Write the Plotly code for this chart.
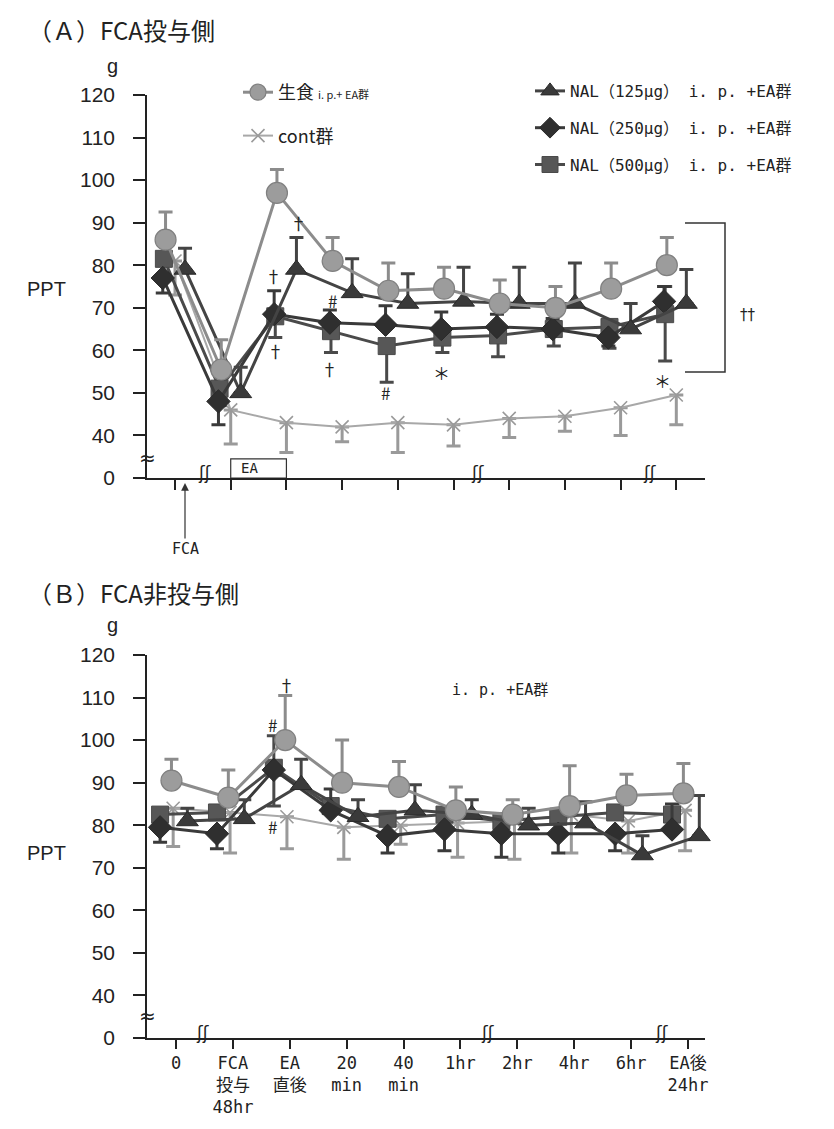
import plotly.graph_objects as go

W, H = 834, 1129

# ---------------- data ----------------
x_labels = ["0", "FCA<br>投与<br>48hr", "EA<br>直後", "20<br>min", "40<br>min",
            "1hr", "2hr", "4hr", "6hr", "EA後<br>24hr"]
idx = list(range(len(x_labels)))

y_tickvals = [30, 40, 50, 60, 70, 80, 90, 100, 110, 120]
y_ticktext = ["0", "40", "50", "60", "70", "80", "90", "100", "110", "120"]

# Panel A (FCA投与側)
saline_A = [86, 55.5, 97, 81, 74, 74.5, 71, 70, 74.5, 80]
saline_A_up = [6.5, 7, 5.5, 5.5, 6.5, 5, 5.5, 5, 6, 6.5]
saline_A_down = [0, 0, 0, 0, 0, 0, 0, 0, 0, 0]

nal125_A = [79, 50, 79, 73.5, 71, 71.5, 71, 71, 65, 71]
nal125_A_up = [5, 6, 7.5, 8, 7, 8, 8.5, 9.5, 6, 8]
nal125_A_down = [0, 0, 0, 0, 0, 0, 0, 0, 0, 0]

nal250_A = [77, 48, 68.5, 66.5, 66, 65, 65.5, 65, 63, 71.5]
nal250_A_up = [0, 0, 5.5, 3, 4.5, 4, 3, 2.5, 0, 3.5]
nal250_A_down = [3.5, 5.5, 0, 0, 0, 0, 0, 0, 2, 0]

nal500_A = [81.5, 51, 68, 64.5, 61, 63, 63.5, 65, 65.5, 68.5]
nal500_A_up = [0, 0, 0, 0, 0, 0, 0, 0, 0, 6.5]
nal500_A_down = [5, 4, 5, 5, 8.5, 3.5, 5, 4, 5, 11]

cont_A = [81, 46, 43, 42, 43, 42.5, 44, 44.5, 46.5, 49.5]
cont_A_up = [0, 0, 0, 0, 0, 0, 0, 0, 0, 0]
cont_A_down = [8, 8, 7, 3.5, 7, 5, 4.5, 3.5, 6.5, 7]

# Panel B (FCA非投与側)
saline_B = [90.5, 86.5, 100, 90, 89, 83.5, 82.5, 84.5, 87, 87.5]
saline_B_up = [5, 6.5, 10.5, 10, 6, 5.5, 3.5, 9.5, 5, 7]
saline_B_down = [0, 0, 0, 0, 0, 0, 0, 0, 0, 0]

nal125_B = [81, 81.5, 89.5, 82, 83.5, 82.5, 80, 80.5, 73, 77.5]
nal125_B_up = [3, 4.5, 6, 4, 6, 3.5, 4, 5, 4.5, 9.5]
nal125_B_down = [0, 0, 0, 0, 0, 0, 0, 0, 0, 0]

nal250_B = [79.5, 78, 93, 83.5, 77.5, 79, 78, 78, 78, 79]
nal250_B_up = [0, 0, 0, 5, 0, 0, 0, 0, 0, 6]
nal250_B_down = [3.5, 3.5, 0, 0, 4, 5, 5.5, 4.5, 4, 0]

nal500_B = [82.5, 83, 93.5, 84.5, 81.5, 82.5, 81, 82, 83, 82.5]
nal500_B_up = [0, 0, 7.5, 0, 0, 0, 0, 0, 0, 0]
nal500_B_down = [0, 0, 9, 0, 0, 0, 0, 0, 0, 0]

cont_B = [84, 83, 82, 79.5, 80, 80.5, 81, 82.5, 81, 83.5]
cont_B_up = [0, 0, 0, 0, 0, 0, 0, 0, 0, 0]
cont_B_down = [9, 9.5, 7.5, 7.5, 4.5, 8, 9, 9, 7.5, 9.5]

# ---------------- styles ----------------
CJK = "Noto Sans CJK JP"
MONO = "DejaVu Sans Mono, Noto Sans CJK JP"
styles = {
    "cont": dict(name="cont群", symbol="x-thin", size=13, fill="#a0a0a0",
                 mline=dict(color="#9a9a9a", width=1.6), line="#a8a8a8", lw=2,
                 err="#9a9a9a", legend="legend", rank=2),
    "nal500": dict(name="NAL（500μg） i. p. +EA群", symbol="square", size=17, fill="#575757",
                   mline=dict(color="#4a4a4a", width=1), line="#4a4a4a", lw=3,
                   err="#4a4a4a", legend="legend2", rank=3),
    "nal250": dict(name="NAL（250μg） i. p. +EA群", symbol="diamond", size=18, fill="#2f2f2f",
                   mline=dict(color="#2a2a2a", width=1), line="#3a3a3a", lw=3,
                   err="#3a3a3a", legend="legend2", rank=2),
    "nal125": dict(name="NAL（125μg） i. p. +EA群", symbol="triangle-up", size=19, fill="#3a3a3a",
                   mline=dict(color="#2a2a2a", width=1), line="#444444", lw=3,
                   err="#444444", legend="legend2", rank=1),
    "saline": dict(name='生食 <span style="font-size:11px">i. p.+ EA群</span>', symbol="circle",
                   size=21, fill="#9c9c9c", mline=dict(color="#808080", width=1.2),
                   line="#8c8c8c", lw=3, err="#8c8c8c", legend="legend", rank=1),
}

panelA = {
    "cont": (cont_A, cont_A_up, cont_A_down, 0.0),
    "nal500": (nal500_A, nal500_A_up, nal500_A_down, -0.20),
    "nal250": (nal250_A, nal250_A_up, nal250_A_down, -0.22),
    "nal125": (nal125_A, nal125_A_up, nal125_A_down, 0.18),
    "saline": (saline_A, saline_A_up, saline_A_down, -0.17),
}
panelB = {
    "cont": (cont_B, cont_B_up, cont_B_down, -0.05),
    "nal500": (nal500_B, nal500_B_up, nal500_B_down, -0.28),
    "nal250": (nal250_B, nal250_B_up, nal250_B_down, -0.28),
    "nal125": (nal125_B, nal125_B_up, nal125_B_down, 0.20),
    "saline": (saline_B, saline_B_up, saline_B_down, -0.08),
}

fig = go.Figure()

def add_panel(panel, xa, ya, show):
    for key, (vals, up, down, off) in panel.items():
        s = styles[key]
        fig.add_trace(go.Scatter(
            x=[i + off for i in idx], y=vals, xaxis=xa, yaxis=ya,
            mode="lines+markers", name=s["name"], showlegend=show,
            legend=s["legend"], legendrank=s["rank"], legendgroup=key + xa,
            line=dict(color=s["line"], width=s["lw"]),
            marker=dict(symbol=s["symbol"], size=s["size"], color=s["fill"], line=s["mline"]),
            error_y=dict(type="data", symmetric=False, array=up, arrayminus=down,
                         color=s["err"], thickness=3, width=7),
            cliponaxis=False,
        ))

add_panel(panelA, "x", "y", True)
add_panel(panelB, "x2", "y2", False)

xdom = [147 / W, 705 / W]
def py(p):
    return 1 - p / H

axis_common = dict(showgrid=False, zeroline=False, showline=True, linecolor="#222222",
                   linewidth=1.5, ticks="outside", tickcolor="#222222", tickwidth=1.5,
                   automargin=False)

fig.update_layout(
    width=W, height=H, margin=dict(l=0, r=0, t=0, b=0, pad=0, autoexpand=False),
    paper_bgcolor="white", plot_bgcolor="white",
    xaxis=dict(domain=xdom, range=[-0.503, 9.515], tickvals=idx, showticklabels=False,
               ticklen=10, anchor="y", **axis_common),
    yaxis=dict(domain=[py(478), py(95)], range=[30, 120], tickvals=y_tickvals,
               ticktext=y_ticktext, ticklen=12, ticklabelstandoff=14, anchor="x",
               tickfont=dict(family="Liberation Sans", size=21, color="#222"), **axis_common),
    xaxis2=dict(domain=xdom, range=[-0.51, 9.30], tickvals=idx, ticktext=x_labels,
                ticklen=9, anchor="y2",
                tickfont=dict(family=MONO, size=17, color="#222"),
                **axis_common),
    yaxis2=dict(domain=[py(1038), py(655)], range=[30, 120], tickvals=y_tickvals,
                ticktext=y_ticktext, ticklen=12, ticklabelstandoff=14, anchor="x2",
                tickfont=dict(family="Liberation Sans", size=21, color="#222"), **axis_common),
    legend=dict(x=238 / W, y=py(74), xanchor="left", yanchor="top", tracegroupgap=17,
                bgcolor="rgba(0,0,0,0)", font=dict(family=CJK, size=18, color="#222"),
                traceorder="grouped"),
    legend2=dict(x=530 / W, y=py(74), xanchor="left", yanchor="top", tracegroupgap=13,
                 bgcolor="rgba(0,0,0,0)", font=dict(family=MONO, size=16, color="#222"),
                 traceorder="grouped"),
)

ann = []
def text(x, y, t, size=16, xref="paper", yref="paper", family=CJK, xanchor="center", **kw):
    ann.append(dict(x=x, y=y, xref=xref, yref=yref, text=t, showarrow=False,
                    font=dict(family=family, size=size, color="#222"), xanchor=xanchor,
                    yanchor="middle", **kw))

# titles and axis labels
text(26 / W, py(30), "（Ａ）FCA投与側", size=24, xanchor="left")
text(113 / W, py(66), "g", size=20, family="Liberation Sans")
text(46 / W, py(289), "PPT", size=20, family="Liberation Sans")
text(26 / W, py(592), "（Ｂ）FCA非投与側", size=24, xanchor="left")
text(113 / W, py(625), "g", size=20, family="Liberation Sans")
text(46 / W, py(853), "PPT", size=20, family="Liberation Sans")
text(500 / W, py(690), "i. p. +EA群", size=15, family=MONO)

# significance marks, panel A
for (xx, yy, t) in [(2.21, 90.1, "†"), (1.76, 77.7, "†"), (1.80, 60.0, "†"),
                    (2.82, 71.8, "#"), (2.78, 55.8, "†"), (3.77, 50.0, "#"),
                    (4.79, 54.9, "＊"), (8.76, 53.0, "＊")]:
    text(xx, yy, t, size=17, xref="x", yref="y", family=CJK)
text(748 / W, py(315), "††", size=15, family="DejaVu Sans")
# significance marks, panel B
for (xx, yy, t) in [(1.95, 113.0, "†"), (1.70, 103.7, "#"), (1.70, 79.8, "#")]:
    text(xx, yy, t, size=17, xref="x2", yref="y2", family=CJK)

# EA period label
text(1.15, 32.3, "EA", size=14, xref="x", yref="y", family="DejaVu Sans Mono", xanchor="left")

# axis breaks
text(147 / W, py(458), "≈", size=20, family="DejaVu Sans")
text(147 / W, py(1016), "≈", size=20, family="DejaVu Sans")
for xx in [0.54, 5.44, 8.53]:
    text(xx, 31.2, "ʃʃ", size=17, xref="x", yref="y", family="DejaVu Sans")
for xx in [0.47, 5.48, 8.54]:
    text(xx, 31.2, "ʃʃ", size=17, xref="x2", yref="y2", family="DejaVu Sans")

# FCA injection arrow
ann.append(dict(x=185 / W, y=py(483), xref="paper", yref="paper", text="FCA",
                showarrow=True, ax=0, ay=66, arrowhead=2, arrowsize=1.3, arrowwidth=1.2,
                arrowcolor="#333", font=dict(family="DejaVu Sans Mono", size=15, color="#222")))

fig.update_layout(annotations=ann)

shapes = [
    # EA box
    dict(type="rect", xref="x", yref="y", x0=1, x1=2, y0=30, y1=34.5,
         line=dict(color="#333", width=1.2), fillcolor="rgba(0,0,0,0)"),
    # bracket for ††
    dict(type="path", xref="paper", yref="paper",
         path=f"M {685/W},{py(223)} L {725/W},{py(223)} L {725/W},{py(372)} L {685/W},{py(372)}",
         line=dict(color="#333", width=1.5)),
    # x-axis overhang left of the y-axis
    dict(type="line", xref="paper", yref="paper", x0=137 / W, x1=147 / W, y0=py(478), y1=py(478),
         line=dict(color="#222", width=1.5)),
    dict(type="line", xref="paper", yref="paper", x0=137 / W, x1=147 / W, y0=py(1038), y1=py(1038),
         line=dict(color="#222", width=1.5)),
]
fig.update_layout(shapes=shapes)

fig.write_html("out.html", config={"displayModeBar": False},
               post_script="document.body.style.margin='0';document.body.style.padding='0';")
